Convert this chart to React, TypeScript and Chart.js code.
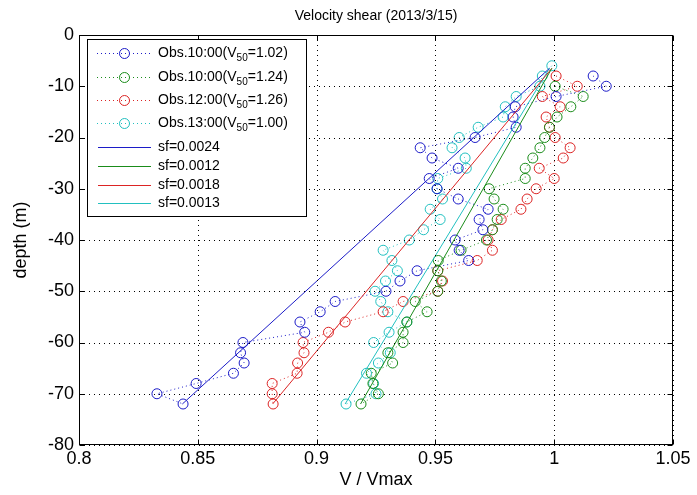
import React, { useEffect, useRef } from 'react';
import { Chart, registerables } from 'chart.js';
Chart.register(...registerables);

// ---------- data ----------
const xTickValues = [0.8, 0.85, 0.9, 0.95, 1, 1.05];
const xTickLabels = ['0.8', '0.85', '0.9', '0.95', '1', '1.05'];
const yTickValues = [0, -10, -20, -30, -40, -50, -60, -70, -80];
const yTickLabels = ['0', '-10', '-20', '-30', '-40', '-50', '-60', '-70', '-80'];

const depthBlue = [-8, -10, -12, -14, -16, -18, -20, -22, -24, -26, -28, -30, -32, -34, -36, -38, -40, -42, -44, -46, -48, -50, -52, -54, -56, -58, -60, -62, -64, -66, -68, -70, -72];
const obsBlue = [1.0164, 1.0219, 1.0008, 0.9836, 0.9827, 0.984, 0.9667, 0.9436, 0.9486, 0.9596, 0.9474, 0.9507, 0.9596, 0.9722, 0.9684, 0.97, 0.9583, 0.96, 0.964, 0.9423, 0.9351, 0.9292, 0.9078, 0.9015, 0.893, 0.895, 0.869, 0.868, 0.8695, 0.865, 0.8493, 0.8328, 0.8438];

const depthGreen = [-10, -12, -14, -16, -18, -20, -22, -24, -26, -28, -30, -32, -34, -36, -38, -40, -42, -44, -46, -48, -50, -52, -54, -56, -58, -60, -62, -64, -66, -68, -70, -72];
const obsGreen = [1.0004, 1.0122, 1.007, 1.0012, 0.998, 0.996, 0.994, 0.991, 0.9878, 0.9878, 0.9726, 0.9747, 0.9785, 0.976, 0.974, 0.9715, 0.9608, 0.9512, 0.951, 0.9525, 0.951, 0.9415, 0.9465, 0.938, 0.9364, 0.9364, 0.93, 0.932, 0.923, 0.9237, 0.926, 0.9187];

const depthRed = [-8, -10, -12, -14, -16, -18, -20, -22, -24, -26, -28, -30, -32, -34, -36, -38, -40, -42, -44, -46, -48, -50, -52, -54, -56, -58, -60, -62, -64, -66, -68, -70, -72];
const obsRed = [1.0008, 1.0097, 0.995, 1.0025, 0.9966, 0.998, 1.0004, 1.0067, 1.0038, 0.9937, 1.0, 0.9924, 0.9886, 0.986, 0.9777, 0.974, 0.9722, 0.974, 0.9676, 0.951, 0.953, 0.951, 0.9364, 0.928, 0.912, 0.905, 0.8943, 0.8947, 0.892, 0.8918, 0.8813, 0.8813, 0.8817];

const depthCyan = [-6, -8, -10, -12, -14, -16, -18, -20, -22, -24, -26, -28, -30, -32, -34, -36, -38, -40, -42, -44, -46, -48, -50, -52, -54, -56, -58, -60, -62, -64, -66, -68, -70, -72];
const obsCyan = [0.999, 0.995, 0.994, 0.984, 0.9794, 0.9785, 0.968, 0.96, 0.957, 0.9625, 0.963, 0.951, 0.9507, 0.953, 0.9478, 0.952, 0.945, 0.939, 0.928, 0.9317, 0.934, 0.929, 0.9246, 0.927, 0.93, 0.938, 0.9305, 0.924, 0.931, 0.926, 0.921, 0.924, 0.925, 0.9124];

const fitDepth = [-72, -6.5];
const fitBlue = [0.8435, 0.998];
const fitGreen = [0.9185, 0.999];
const fitRed = [0.8815, 0.999];
const fitCyan = [0.912, 0.998];

const obsTimes = ['Obs.10:00', 'Obs.10:00', 'Obs.12:00', 'Obs.13:00'];
const obsV50 = ['1.02', '1.24', '1.26', '1.00'];
const sfLabels = ['sf=0.0024', 'sf=0.0012', 'sf=0.0018', 'sf=0.0013'];

const titleText = 'Velocity shear (2013/3/15)';
const xLabel = 'V / Vmax';
const yLabel = 'depth (m)';

// ---------- style ----------
const BLUE = '#1c1cc8';
const GREEN = '#1a8c1a';
const RED = '#dc2424';
const CYAN = '#22c0c0';
const colors = [BLUE, GREEN, RED, CYAN];
const FONT = "'Liberation Sans', Arial, sans-serif";

const toPts = (xs: number[], ys: number[]) => xs.map((x, i) => ({ x, y: ys[i] }));

const obsDataset = (label: string, xs: number[], ys: number[], color: string) => ({
  label,
  data: toPts(xs, ys),
  showLine: true,
  borderColor: color,
  borderWidth: 1,
  borderDash: [1, 3],
  pointRadius: 5,
  pointHoverRadius: 5,
  pointBorderWidth: 1,
  pointBorderColor: color,
  pointBackgroundColor: 'rgba(0,0,0,0)',
  backgroundColor: 'rgba(0,0,0,0)',
});

const fitDataset = (label: string, xs: number[], ys: number[], color: string) => ({
  label,
  data: toPts(xs, ys),
  showLine: true,
  borderColor: color,
  borderWidth: 1,
  pointRadius: 0,
  pointHoverRadius: 0,
  backgroundColor: color,
});

const chromePlugin = {
  id: 'chrome',
  afterDraw(chart: any) {
    const ctx = chart.ctx as CanvasRenderingContext2D;
    const a = chart.chartArea;
    const xs = chart.scales.x;
    const ys = chart.scales.y;
    ctx.save();
    const L = Math.round(a.left) + 0.5, R = Math.round(a.right) - 0.5;
    const T = Math.round(a.top) + 0.5, B = Math.round(a.bottom) - 0.5;

    // dotted grid
    ctx.strokeStyle = '#000';
    ctx.lineWidth = 1;
    xTickValues.forEach((v) => {
      const px = Math.round(xs.getPixelForValue(v)) + 0.5;
      for (let y = T + 4; y < B - 1; y += 5) {
        ctx.fillStyle = '#000';
        ctx.fillRect(px - 0.5, Math.round(y), 1, 1);
      }
    });
    yTickValues.forEach((v) => {
      const py = Math.round(ys.getPixelForValue(v)) + 0.5;
      for (let x = L + 4; x < R - 1; x += 5) {
        ctx.fillStyle = '#000';
        ctx.fillRect(Math.round(x), py - 0.5, 1, 1);
      }
    });

    // box
    ctx.setLineDash([]);
    ctx.strokeRect(L, T, R - L, B - T);
    // inward ticks
    ctx.beginPath();
    xTickValues.forEach((v) => {
      const px = Math.round(xs.getPixelForValue(v)) + 0.5;
      ctx.moveTo(px, B); ctx.lineTo(px, B - 5);
      ctx.moveTo(px, T); ctx.lineTo(px, T + 5);
    });
    yTickValues.forEach((v) => {
      const py = Math.round(ys.getPixelForValue(v)) + 0.5;
      ctx.moveTo(L, py); ctx.lineTo(L + 5, py);
      ctx.moveTo(R, py); ctx.lineTo(R - 5, py);
    });
    ctx.stroke();

    // title & axis labels
    ctx.fillStyle = '#000';
    ctx.textAlign = 'center';
    ctx.textBaseline = 'middle';
    ctx.font = `14px ${FONT}`;
    ctx.fillText(titleText, (a.left + a.right) / 2, 16);
    ctx.font = `18px ${FONT}`;
    ctx.fillText(xLabel, (a.left + a.right) / 2, 480);
    ctx.save();
    ctx.translate(21, (a.top + a.bottom) / 2);
    ctx.rotate(-Math.PI / 2);
    ctx.fillText(yLabel, 0, 0);
    ctx.restore();

    // legend
    const bx = 87.5, by = 39.5, bw = 219, bh = 177;
    ctx.fillStyle = '#fff';
    ctx.fillRect(bx, by, bw, bh);
    ctx.strokeStyle = '#000';
    ctx.strokeRect(bx, by, bw, bh);
    const obsRows = [53, 77, 100, 123];
    const sfRows = [147, 166, 185, 203];
    ctx.textAlign = 'left';
    ctx.textBaseline = 'middle';
    obsRows.forEach((y, i) => {
      const c = colors[i];
      ctx.strokeStyle = c;
      ctx.lineWidth = 1;
      ctx.setLineDash([1, 3]);
      ctx.beginPath();
      ctx.moveTo(97, y + 0.5); ctx.lineTo(152, y + 0.5);
      ctx.stroke();
      ctx.setLineDash([]);
      ctx.beginPath();
      ctx.arc(124.5, y + 0.5, 5, 0, Math.PI * 2);
      ctx.stroke();
      ctx.fillStyle = '#000';
      ctx.font = `14px ${FONT}`;
      let tx = 158;
      const t1 = obsTimes[i] + '(V';
      ctx.fillText(t1, tx, y);
      tx += ctx.measureText(t1).width;
      ctx.font = `10px ${FONT}`;
      ctx.fillText('50', tx, y + 5);
      tx += ctx.measureText('50').width;
      ctx.font = `14px ${FONT}`;
      ctx.fillText('=' + obsV50[i] + ')', tx, y);
    });
    sfRows.forEach((y, i) => {
      ctx.strokeStyle = colors[i];
      ctx.setLineDash([]);
      ctx.beginPath();
      ctx.moveTo(98, y + 0.5); ctx.lineTo(151, y + 0.5);
      ctx.stroke();
      ctx.fillStyle = '#000';
      ctx.font = `14px ${FONT}`;
      ctx.fillText(sfLabels[i], 158, y);
    });
    ctx.restore();
  },
};

export default function App() {
  const ref = useRef<HTMLCanvasElement>(null);
  useEffect(() => {
    document.body.style.margin = '0';
    const canvas = ref.current!;
    const chart = new Chart(canvas, {
      type: 'scatter',
      data: {
        datasets: [
          fitDataset(sfLabels[0], fitBlue, fitDepth, BLUE),
          fitDataset(sfLabels[1], fitGreen, fitDepth, GREEN),
          fitDataset(sfLabels[2], fitRed, fitDepth, RED),
          fitDataset(sfLabels[3], fitCyan, fitDepth, CYAN),
          obsDataset(obsTimes[0], obsBlue, depthBlue, BLUE),
          obsDataset(obsTimes[1], obsGreen, depthGreen, GREEN),
          obsDataset(obsTimes[2], obsRed, depthRed, RED),
          obsDataset(obsTimes[3], obsCyan, depthCyan, CYAN),
        ] as any,
      },
      options: {
        responsive: false,
        animation: false,
        devicePixelRatio: 1,
        layout: { padding: { top: 35, right: 24, left: 0, bottom: 0 } },
        plugins: {
          legend: { display: false },
          title: { display: false },
          tooltip: { enabled: false },
        },
        scales: {
          x: {
            type: 'linear',
            min: 0.8,
            max: 1.05,
            afterBuildTicks: (s: any) => { s.ticks = xTickValues.map((v) => ({ value: v })); },
            afterFit: (s: any) => { s.height = 50; },
            ticks: {
              autoSkip: false,
              maxRotation: 0,
              padding: 3,
              color: '#000',
              font: { family: FONT, size: 18 },
              callback: (v: any, i: number) => xTickLabels[i],
            },
            grid: { display: false, drawTicks: false },
            border: { display: false },
          },
          y: {
            type: 'linear',
            min: -80,
            max: 0,
            afterBuildTicks: (s: any) => { s.ticks = yTickValues.map((v) => ({ value: v })); },
            afterFit: (s: any) => { s.width = 79; },
            ticks: {
              autoSkip: false,
              padding: 5,
              color: '#000',
              font: { family: FONT, size: 18 },
              callback: (v: any, i: number) => yTickLabels[i],
            },
            grid: { display: false, drawTicks: false },
            border: { display: false },
          },
        },
      } as any,
      plugins: [chromePlugin],
    });
    return () => chart.destroy();
  }, []);
  return <canvas ref={ref} width={697} height={495} style={{ display: 'block', width: 697, height: 495 }} />;
}
